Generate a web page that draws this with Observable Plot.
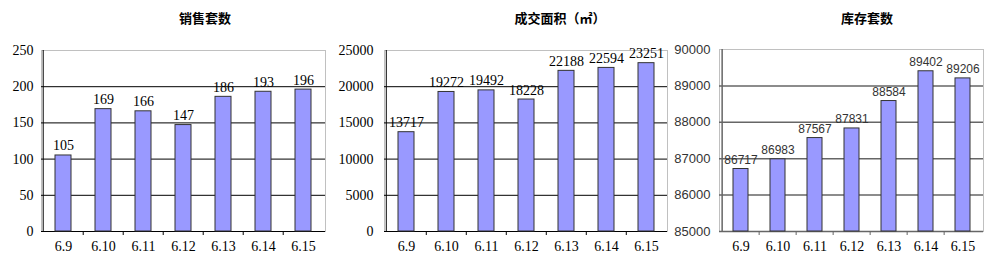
<!DOCTYPE html>
<html>
<head>
<meta charset="utf-8">
<script src="https://cdn.jsdelivr.net/npm/d3@7"></script>
<script src="https://cdn.jsdelivr.net/npm/@observablehq/plot@0.6"></script>
<style>
  html, body { margin: 0; padding: 0; background: #fff; }
  #wrap { position: relative; width: 1000px; height: 267px; overflow: hidden; background: #fff; }
  .panel { position: absolute; top: 0; }
  .title { position: absolute; top: 8px; transform: translateX(-50%); font-family: "Noto Sans CJK SC", sans-serif; font-weight: bold; font-size: 13px; color: #000; white-space: nowrap; line-height: 20px; }
</style>
</head>
<body>
<div id="wrap"></div>
<script>
const dates = ["6.9", "6.10", "6.11", "6.12", "6.13", "6.14", "6.15"];
const salesUnits = [105, 169, 166, 147, 186, 193, 196];
const dealArea = [13717, 19272, 19492, 18228, 22188, 22594, 23251];
const stockUnits = [86717, 86983, 87567, 87831, 88584, 89402, 89206];
const salesTicks = [0, 50, 100, 150, 200, 250];
const areaTicks = [0, 5000, 10000, 15000, 20000, 25000];
const stockTicks = [85000, 86000, 87000, 88000, 89000, 90000];
const titles = ["销售套数", "成交面积（㎡）", "库存套数"];

const panels = [
  {values: salesUnits, ticks: salesTicks, title: titles[0], left: 0, width: 330, ml: 41, mr: 5, mt: 50, mb: 36, titleX: 205,
   grid: "#000", gridW: 1, yFont: "Liberation Serif", yFontSize: 14, labelFont: "Liberation Serif", labelFontSize: 14, labelColor: "#000", yPad: 8},
  {values: dealArea, ticks: areaTicks, title: titles[1], left: 330, width: 340, ml: 54, mr: 3, mt: 50, mb: 36, titleX: 560,
   grid: "#000", gridW: 1, yFont: "Liberation Serif", yFontSize: 14, labelFont: "Liberation Serif", labelFontSize: 14, labelColor: "#000", yPad: 11},
  {values: stockUnits, ticks: stockTicks, title: titles[2], left: 670, width: 330, ml: 49, mr: 17, mt: 49, mb: 36, titleX: 867,
   grid: "#666", gridW: 1.5, yFont: "Liberation Sans", yFontSize: 13, labelFont: "Liberation Sans", labelFontSize: 12, labelColor: "#333", yPad: 9}
];

const wrap = document.getElementById("wrap");

for (const cfg of panels) {
  const height = 267;
  const innerW = cfg.width - cfg.ml - cfg.mr;
  const innerH = height - cfg.mt - cfg.mb;
  const step = innerW / dates.length;
  const base = cfg.ticks[0];
  const rows = dates.map((d, i) => ({date: d, value: cfg.values[i]}));

  const chart = Plot.plot({
    width: cfg.width,
    height,
    marginLeft: cfg.ml,
    marginRight: cfg.mr,
    marginTop: cfg.mt,
    marginBottom: cfg.mb,
    style: {fontFamily: "Liberation Serif", fontSize: "14px", color: "#000", background: "transparent", overflow: "visible"},
    x: {domain: dates, paddingInner: 0.6, paddingOuter: 0.3, axis: null, label: null},
    y: {domain: [cfg.ticks[0], cfg.ticks[cfg.ticks.length - 1]], axis: null, label: null},
    marks: [
      Plot.frame({stroke: "#c0c0c0"}),
      Plot.ruleY(cfg.ticks.slice(0, -1), {stroke: cfg.grid, strokeWidth: cfg.gridW}),
      Plot.ruleX([dates[0]], {x: d => d, dx: -step / 2, stroke: cfg.grid, strokeWidth: cfg.gridW}),
      Plot.ruleX(dates.slice(1), {x: d => d, dx: -step / 2, insetTop: innerH, insetBottom: -4, stroke: cfg.grid}),
      Plot.barY(rows, {x: "date", y1: () => base, y2: "value", fill: "#9999ff", stroke: "#333", strokeWidth: 1}),
      Plot.text(rows, {x: "date", y: "value", text: d => String(d.value), lineAnchor: "bottom", dy: -5,
        fontFamily: cfg.labelFont, fontSize: cfg.labelFontSize, fill: cfg.labelColor}),
      Plot.axisY({ticks: cfg.ticks, tickSize: 0, tickPadding: cfg.yPad, tickFormat: d => String(d), label: null,
        fontFamily: cfg.yFont, fontSize: cfg.yFontSize, fill: cfg.labelColor}),
      Plot.axisX({tickSize: 0, tickPadding: 10, fontSize: 14, fill: "#000", label: null})
    ]
  });
  const holder = document.createElement("div");
  holder.className = "panel";
  holder.style.left = cfg.left + "px";
  holder.appendChild(chart);
  wrap.appendChild(holder);

  const t = document.createElement("div");
  t.className = "title";
  t.style.left = cfg.titleX + "px";
  t.textContent = cfg.title;
  wrap.appendChild(t);
}
</script>
</body>
</html>
